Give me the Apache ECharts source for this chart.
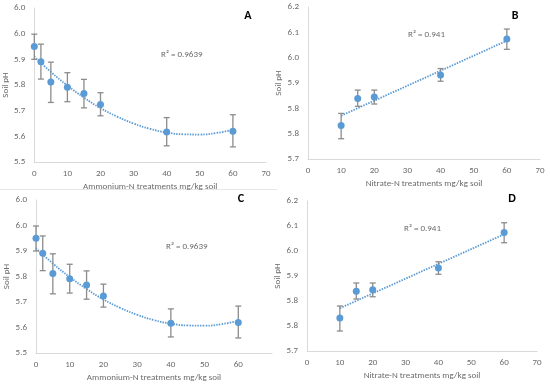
<!DOCTYPE html>
<html><head><meta charset="utf-8">
<script src="https://cdn.jsdelivr.net/npm/echarts@6/dist/echarts.min.js"></script>
<style>html,body{margin:0;padding:0;background:#fff}#c{width:550px;height:388px}</style>
</head><body><div id="c"></div>
<script>
// Ammonium-N panels (A, C)
const ammoniumX = [0, 2, 5, 10, 15, 20, 40, 60];
const ammoniumPH = [5.95, 5.891, 5.812, 5.791, 5.767, 5.724, 5.617, 5.620];
const ammoniumLow = [5.90, 5.823, 5.732, 5.735, 5.711, 5.680, 5.563, 5.559];
const ammoniumHigh = [5.998, 5.959, 5.889, 5.848, 5.822, 5.770, 5.673, 5.684];
const ammoniumTrendX = [0, 5, 10, 15, 20, 25, 30, 35, 40, 45, 50, 55, 60];
const ammoniumTrendY = [5.911, 5.851, 5.798, 5.751, 5.710, 5.677, 5.650, 5.629, 5.615, 5.608, 5.607, 5.613, 5.626];
const ammoniumYTicks = ['5.5', '5.6', '5.7', '5.8', '5.9', '6.0', '6.0'];
// Nitrate-N panels (B, D)
const nitrateX = [10, 15, 20, 40, 60];
const nitratePH = [5.732, 5.839, 5.845, 5.932, 6.074];
const nitrateLow = [5.680, 5.808, 5.817, 5.907, 6.033];
const nitrateHigh = [5.780, 5.872, 5.872, 5.957, 6.113];
const nitrateTrendX = [10, 60];
const nitrateTrendY = [5.771, 6.067];
const nitrateYTicks = ['5.7', '5.8', '5.8', '5.9', '6.0', '6.1', '6.2'];
const xTicks = ['0', '10', '20', '30', '40', '50', '60', '70'];
const r2Ammonium = 'R² = 0.9639';
const r2Nitrate = 'R² = 0.941';

const blue = '#5b9bd5', grayText = '#6b6b6b', axisGray = '#d9d9d9', barGray = '#8c8c8c';
const font = 'Calibri, Carlito, "Liberation Sans", "Open Sans", sans-serif';

const grids = [
  {left: 34, top: 8, width: 232, height: 154},
  {left: 308, top: 7, width: 232, height: 152},
  {left: 36, top: 200, width: 236, height: 153},
  {left: 307, top: 201, width: 230, height: 150}
];
const panels = [
  {kind: 'a', xname: 'Ammonium-N treatments mg/kg soil', hide70: false},
  {kind: 'n', xname: 'Nitrate-N treatments mg/kg soil', hide70: false},
  {kind: 'a', xname: 'Ammonium-N treatments mg/kg soil', hide70: true},
  {kind: 'n', xname: 'Nitrate-N treatments mg/kg soil', hide70: false}
];

const xAxis = [], yAxis = [], series = [];
panels.forEach((p, i) => {
  const isA = p.kind === 'a';
  const yMin = isA ? 5.5 : 5.6;
  const ticks = isA ? ammoniumYTicks : nitrateYTicks;
  xAxis.push({
    gridIndex: i, type: 'value', min: 0, max: 70, interval: 10,
    axisLine: {show: true, lineStyle: {color: axisGray, width: 1}},
    axisTick: {show: false}, splitLine: {show: false},
    axisLabel: {color: grayText, fontSize: 9, fontFamily: font, margin: 7,
      formatter: (v) => { const k = Math.round(v / 10); if (p.hide70 && k === 7) return ''; return xTicks[k]; }},
    name: p.xname, nameLocation: 'middle', nameGap: 20,
    nameTextStyle: {color: grayText, fontSize: 9, fontFamily: font}
  });
  yAxis.push({
    gridIndex: i, type: 'value', min: yMin, max: yMin + 0.6, interval: 0.1,
    axisLine: {show: true, lineStyle: {color: axisGray, width: 1}},
    axisTick: {show: false}, splitLine: {show: false},
    axisLabel: {color: grayText, fontSize: 9, fontFamily: font, margin: 9,
      formatter: (v) => ticks[Math.round((v - yMin) * 10)]},
    name: 'Soil pH', nameLocation: 'middle', nameGap: 24,
    nameTextStyle: {color: grayText, fontSize: 9, fontFamily: font}
  });
  const xs = isA ? ammoniumX : nitrateX;
  const ys = isA ? ammoniumPH : nitratePH;
  const lo = isA ? ammoniumLow : nitrateLow;
  const hi = isA ? ammoniumHigh : nitrateHigh;
  const tx = isA ? ammoniumTrendX : nitrateTrendX;
  const ty = isA ? ammoniumTrendY : nitrateTrendY;
  series.push({
    type: 'line', xAxisIndex: i, yAxisIndex: i, smooth: isA, symbol: 'none',
    lineStyle: {color: blue, width: 1.8, type: [1.5, 1.2]}, silent: true, z: 2,
    data: tx.map((x, k) => [x, ty[k]])
  });
  series.push({
    type: 'custom', xAxisIndex: i, yAxisIndex: i, z: 3,
    data: xs.map((x, k) => [x, lo[k], hi[k]]),
    renderItem: (params, api) => {
      const top = api.coord([api.value(0), api.value(2)]);
      const bot = api.coord([api.value(0), api.value(1)]);
      const hw = 3;
      const st = {stroke: barGray, lineWidth: 1.3};
      return {type: 'group', children: [
        {type: 'line', shape: {x1: top[0], y1: top[1], x2: bot[0], y2: bot[1]}, style: st},
        {type: 'line', shape: {x1: top[0] - hw, y1: top[1], x2: top[0] + hw, y2: top[1]}, style: st},
        {type: 'line', shape: {x1: bot[0] - hw, y1: bot[1], x2: bot[0] + hw, y2: bot[1]}, style: st}
      ]};
    }
  });
  series.push({
    type: 'scatter', xAxisIndex: i, yAxisIndex: i, symbolSize: 7, z: 4,
    itemStyle: {color: blue, opacity: 1},
    data: xs.map((x, k) => [x, ys[k]])
  });
});

const txt = (x, y, t, opt) => Object.assign({type: 'text', x: x, y: y,
  style: Object.assign({text: t, fill: grayText, font: '9px ' + font, textAlign: 'left', textVerticalAlign: 'middle'}, opt || {})});

const chart = echarts.init(document.getElementById('c'), null, {renderer: 'canvas'});
chart.setOption({
  animation: false,
  backgroundColor: '#fff',
  grid: grids,
  xAxis: xAxis, yAxis: yAxis, series: series,
  graphic: [
    {type: 'line', shape: {x1: 0, y1: 189.5, x2: 277, y2: 189.5}, style: {stroke: '#e6e6e6', lineWidth: 1}},
    txt(161, 55, r2Ammonium),
    txt(408, 35, r2Nitrate),
    txt(166, 247, r2Ammonium),
    txt(404, 229, r2Nitrate),
    txt(248, 16, 'A', {fill: '#000', font: 'bold 12px ' + font, textAlign: 'center'}),
    txt(515, 16, 'B', {fill: '#000', font: 'bold 12px ' + font, textAlign: 'center'}),
    txt(241, 199, 'C', {fill: '#000', font: 'bold 12px ' + font, textAlign: 'center'}),
    txt(512, 199, 'D', {fill: '#000', font: 'bold 12px ' + font, textAlign: 'center'})
  ]
});
</script></body></html>
